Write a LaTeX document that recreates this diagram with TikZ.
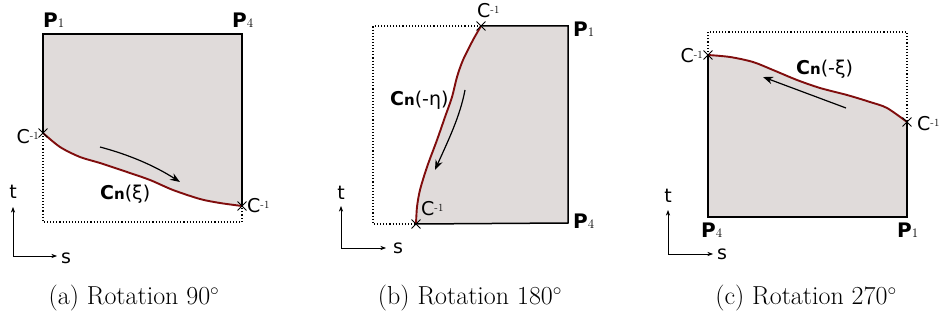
\documentclass[tikz,border=0pt]{standalone}
\usepackage{fontspec}
\newfontfamily\sansfig{DejaVu Sans}
\usetikzlibrary{arrows.meta,positioning,shapes.misc}
\definecolor{regiongray}{rgb}{0.88, 0.86, 0.855}
\definecolor{curvered}{rgb}{0.50, 0.05, 0.05}
\newcommand{\ptname}[1]{\textbf{P}{\rmfamily\fontsize{13}{13}\selectfont #1}}
\newcommand{\cinv}{C{\rmfamily\fontsize{11}{11}\selectfont\raisebox{1.0ex}{-1}}}
\newcommand{\cname}[1]{\textbf{C}{\bfseries\fontsize{15}{15}\selectfont n}(#1)}
\tikzset{
  region/.style={
    fill=regiongray,
    draw=none
  },
  edge/.style={
    draw=black,
    line width=1.5pt
  },
  curve/.style={
    draw=curvered,
    line width=1.9pt,
    smooth
  },
  dotbox/.style={
    draw=black,
    dotted,
    line width=1.1pt
  },
  xmark/.style={
    cross out,
    draw=black,
    minimum size=8pt,
    inner sep=0pt,
    line width=0.9pt
  },
  flow/.style={
    -{Stealth[length=3.5mm,width=2.6mm]},
    line width=1.2pt
  },
  axis/.style={
    -{Stealth[length=2mm]},
    line width=0.7pt
  },
  ptlbl/.style={
    font=\sansfig\fontsize{20}{20}\selectfont,
    inner sep=0pt
  },
  lbl/.style={
    font=\sansfig\fontsize{19}{19}\selectfont,
    inner sep=0pt
  },
  caption/.style={
    font=\fontsize{26}{26}\selectfont,
    inner sep=0pt
  }
}

\begin{document}
\begin{tikzpicture}[x=1pt,y=-1pt]
\useasboundingbox[fill=white] (0,0) rectangle (940,323);

% (a) rotation 90
\coordinate (a1) at (43,34);
\coordinate (a4) at (242,34);
\coordinate (ac1) at (43,133);
\coordinate (ac2) at (242,206);
\coordinate (ab1) at (43,222);
\coordinate (ab2) at (242,222);
\fill[region] (a1) -- (a4) -- plot[smooth] coordinates {(242,206) (220,203) (200,199) (173,190) (150,180) (127,172) (100,163) (80,157) (60,147) (43,133)} -- cycle;
\draw[dotbox] (ac1) -- (ab1) -- (ab2) -- (ac2);
\draw[edge] (ac1) -- (a1) -- (a4) -- (ac2);
\draw[curve] plot coordinates {(43,133) (60,147) (80,157) (100,163) (127,172) (150,180) (173,190) (200,199) (220,203) (242,206)};
\node[xmark] (xa1) at (ac1) {};
\node[xmark] (xa2) at (ac2) {};
\coordinate (fa1) at (100,147);
\coordinate (fa2) at (180,182);
\draw[flow] (fa1) .. controls (130,155) and (155,166) .. (fa2);
\node[ptlbl, anchor=base west] (pa1) at (43,28) {\ptname{1}};
\node[ptlbl, anchor=base west] (pa4) at (232,28) {\ptname{4}};
\node[lbl, anchor=base east] (ca1) at (39,144) {\cinv};
\node[lbl, anchor=base west] (ca2) at (247,213) {\cinv};
\node[lbl, anchor=base west] (na) at (100,200) {\cname{ξ}};
\coordinate (oa) at (13,256);
\node[lbl, anchor=base] (ta) at (13,199) {t};
\node[lbl, anchor=base west] (sa) at (61,263) {s};
\draw[axis] (oa) -- (13,207);
\draw[axis] (oa) -- (57,256);
\node[caption, anchor=base] (capa) at (134,305) {(a) Rotation 90$^{\circ}$};

% (b) rotation 180
\coordinate (b1) at (568,26);
\coordinate (b4) at (568,223);
\coordinate (bc1) at (481,26);
\coordinate (bc2) at (416,224);
\coordinate (bb1) at (373,26);
\coordinate (bb2) at (373,224);
\fill[region] (bc1) -- (b1) -- (b4) -- plot[smooth] coordinates {(416,224) (417,207) (420,190) (427,167) (437,140) (445,117) (452,97) (457,77) (463,60) (473,40) (481,26)} -- cycle;
\draw[dotbox] (bc1) -- (bb1) -- (bb2) -- (bc2);
\draw[edge] (bc1) -- (b1) -- (b4) -- (bc2);
\draw[curve] plot coordinates {(481,26) (473,40) (463,60) (457,77) (452,97) (445,117) (437,140) (427,167) (420,190) (417,207) (416,224)};
\node[xmark] (xb1) at (bc1) {};
\node[xmark] (xb2) at (bc2) {};
\coordinate (fb1) at (465,90);
\coordinate (fb2) at (435,170);
\draw[flow] (fb1) .. controls (460,117) and (447,143) .. (fb2);
\node[ptlbl, anchor=base west] (pb1) at (573,37) {\ptname{1}};
\node[ptlbl, anchor=base west] (pb4) at (573,229) {\ptname{4}};
\node[lbl, anchor=base west] (cb1) at (477,18) {\cinv};
\node[lbl, anchor=base west] (cb2) at (421,216) {\cinv};
\node[lbl, anchor=base west] (nb) at (390,106) {\cname{-η}};
\coordinate (ob) at (341,248);
\node[lbl, anchor=base] (tb) at (341,200) {t};
\node[lbl, anchor=base west] (sb) at (393,254) {s};
\draw[axis] (ob) -- (341,206);
\draw[axis] (ob) -- (386,248);
\node[caption, anchor=base] (capb) at (470,305) {(b) Rotation 180$^{\circ}$};

% (c) rotation 270
\coordinate (c4) at (708,217);
\coordinate (c1) at (907,217);
\coordinate (cc1) at (708,55);
\coordinate (cc2) at (907,122);
\coordinate (cb1) at (708,32);
\coordinate (cb2) at (907,32);
\fill[region] (c4) -- (c1) -- plot[smooth] coordinates {(907,122) (887,108) (870,102) (847,95) (820,88) (797,80) (773,70) (753,62) (730,57) (708,55)} -- cycle;
\draw[dotbox] (cc1) -- (cb1) -- (cb2) -- (cc2);
\draw[edge] (cc1) -- (c4) -- (c1) -- (cc2);
\draw[curve] plot coordinates {(708,55) (730,57) (753,62) (773,70) (797,80) (820,88) (847,95) (870,102) (887,108) (907,122)};
\node[xmark] (xc1) at (cc1) {};
\node[xmark] (xc2) at (cc2) {};
\coordinate (fc1) at (846,108);
\coordinate (fc2) at (763,77);
\draw[flow] (fc1) -- (fc2);
\node[ptlbl, anchor=base west] (pc4) at (701,238) {\ptname{4}};
\node[ptlbl, anchor=base west] (pc1) at (897,238) {\ptname{1}};
\node[lbl, anchor=base east] (ccl1) at (703,63) {\cinv};
\node[lbl, anchor=base west] (ccl2) at (917,131) {\cinv};
\node[lbl, anchor=base west] (nc) at (796,75) {\cname{-ξ}};
\coordinate (oc) at (668,254);
\node[lbl, anchor=base] (tc) at (668,203) {t};
\node[lbl, anchor=base west] (sc) at (717,260) {s};
\draw[axis] (oc) -- (668,210);
\draw[axis] (oc) -- (713,254);
\node[caption, anchor=base] (capc) at (806,305) {(c) Rotation 270$^{\circ}$};
\end{tikzpicture}
\end{document}
